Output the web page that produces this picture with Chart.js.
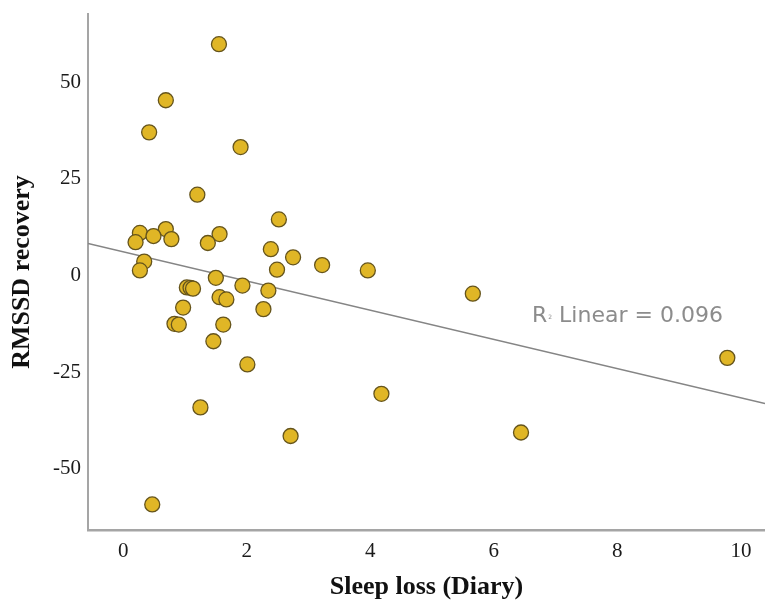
<!DOCTYPE html>
<html>
<head>
<meta charset="utf-8">
<script src="https://cdn.jsdelivr.net/npm/chart.js@4.4.1/dist/chart.umd.min.js"></script>
<style>
  html, body { margin: 0; padding: 0; background: #fff; }
  #wrap { width: 765px; height: 608px; }
</style>
</head>
<body>
<div id="wrap"><canvas id="myChart" width="765" height="608"></canvas></div>
<script>
// sleep loss (diary) vs RMSSD recovery
const sleepLoss = [1.55, 0.69, 0.42, 1.90, 1.20, 2.52, 0.69, 0.27, 0.49, 1.56,
                   0.78, 0.20, 1.37, 2.39, 2.75, 0.34, 3.22, 0.27, 2.49, 3.96,
                   1.50, 1.93, 1.03, 1.09, 1.13, 2.35, 1.56, 1.67, 5.66, 0.97,
                   2.27, 0.83, 0.90, 1.62, 1.46, 2.01, 9.78, 4.18, 1.25, 2.71,
                   6.44, 0.47];
const rmssd = [59.8, 45.3, 37.0, 33.2, 20.9, 14.5, 12.0, 11.0, 10.2, 10.7,
               9.4, 8.6, 8.4, 6.8, 4.7, 3.6, 2.7, 1.3, 1.5, 1.3,
               -0.6, -2.6, -3.1, -3.2, -3.4, -3.9, -5.6, -6.2, -4.7, -8.3,
               -8.7, -12.5, -12.7, -12.7, -17.0, -23.0, -21.3, -30.6, -34.1, -41.5,
               -40.6, -59.2];

// fit line end points
const fitX = [-0.57, 10.39];
const fitY = [8.3, -33.1];

const xTicks = [0, 2, 4, 6, 8, 10];
const yTicks = [-50, -25, 0, 25, 50];

const points = sleepLoss.map((x, i) => ({x: x, y: rmssd[i]}));
const fitLine = fitX.map((x, i) => ({x: x, y: fitY[i]}));

// R2 label drawn on the canvas
const r2Label = {
  id: 'r2Label',
  afterDatasetsDraw(chart) {
    const ctx = chart.ctx;
    ctx.save();
    ctx.fillStyle = '#8c8c8c';
    ctx.textBaseline = 'middle';
    ctx.font = '22px "DejaVu Sans"';
    let x = 532, y = 316;
    ctx.fillText('R', x, y);
    x += ctx.measureText('R').width + 1;
    ctx.font = '6px "DejaVu Sans"';
    ctx.fillText('2', x, y + 1);
    x += ctx.measureText('2').width;
    ctx.font = '22px "DejaVu Sans"';
    ctx.fillText(' Linear = 0.096', x, y);
    ctx.restore();
  }
};

const serif = 'Liberation Serif';

new Chart('myChart', {
  type: 'scatter',
  data: {
    datasets: [{
      data: points,
      backgroundColor: '#e0b626',
      borderColor: '#65541c',
      borderWidth: 1.3,
      pointRadius: 7.5,
      order: 1
    }, {
      type: 'line',
      data: fitLine,
      borderColor: '#858585',
      borderWidth: 1.5,
      pointRadius: 0,
      fill: false,
      order: 2
    }]
  },
  options: {
    responsive: false,
    animation: false,
    // no auto padding, so the plot runs to the right edge
    layout: { autoPadding: false, padding: { top: 14, right: 0, left: 0, bottom: 0 } },
    plugins: {
      legend: { display: false },
      tooltip: { enabled: false }
    },
    scales: {
      x: {
        type: 'linear',
        min: -0.57,
        max: 10.39,
        afterBuildTicks(scale) { scale.ticks = xTicks.map(v => ({value: v})); },
        afterFit(scale) {
          scale.height = 78;
          scale.paddingLeft = 0;
          scale.paddingRight = 0;
        },
        grid: { display: false, drawTicks: false },
        border: { display: true, color: '#a5a5a5', width: 2.5 },
        ticks: { padding: 9, color: '#1a1a1a', font: { family: serif, size: 21 } },
        title: {
          display: true,
          text: 'Sleep loss (Diary)',
          color: '#111',
          padding: { top: 0, bottom: 5 },
          font: { family: serif, size: 26, weight: 'bold' }
        }
      },
      y: {
        type: 'linear',
        min: -65.8,
        max: 67.6,
        afterBuildTicks(scale) { scale.ticks = yTicks.map(v => ({value: v})); },
        afterFit(scale) {
          scale.width = 88;
          scale.paddingTop = 0;
          scale.paddingBottom = 0;
        },
        grid: { display: false, drawTicks: false },
        border: { display: true, color: '#a5a5a5', width: 2 },
        ticks: { padding: 7, color: '#1a1a1a', font: { family: serif, size: 21 } },
        title: {
          display: true,
          text: 'RMSSD recovery',
          color: '#111',
          padding: { top: 7, bottom: 0 },
          font: { family: serif, size: 26, weight: 'bold' }
        }
      }
    }
  },
  plugins: [r2Label]
});
</script>
</body>
</html>
